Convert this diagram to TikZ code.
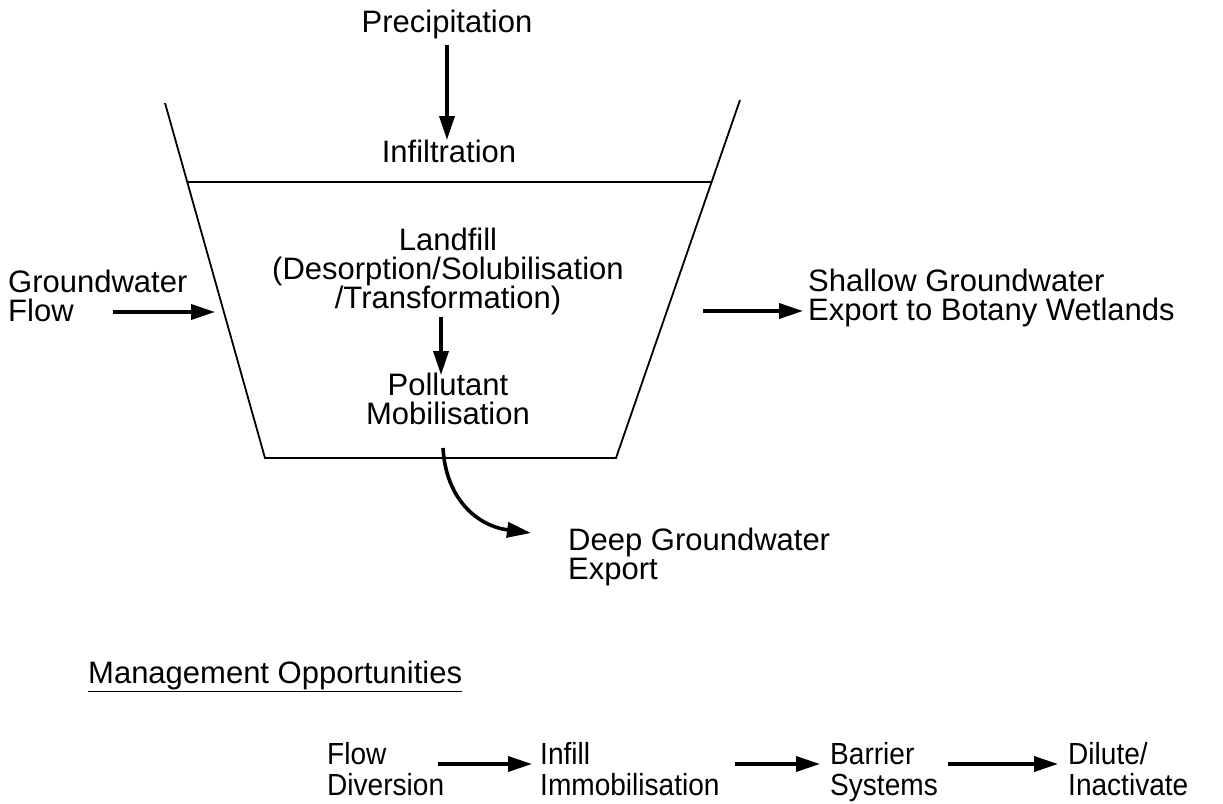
\documentclass[tikz,border=0pt]{standalone}
\usepackage{fontspec}
\setmainfont{Liberation Sans}
\newfontfamily\narrowsans[FakeStretch=0.92]{Liberation Sans}
\usetikzlibrary{arrows.meta}
\begin{document}
\begin{tikzpicture}[x=1pt,y=-1pt,
  txt/.style={font=\fontsize{31}{29}\selectfont, inner sep=0pt},
  lbl/.style={txt, align=left, anchor=base west},
  ctr/.style={txt, align=center, anchor=base},
  opt/.style={lbl, font=\narrowsans\fontsize{30.5}{31}\selectfont},
  flow/.style={line width=3.6pt, -{Triangle[length=24pt,width=15pt]}},
  wall/.style={line width=1.8pt}]
\useasboundingbox (0,0) rectangle (1223,803);
% trapezoid
\coordinate (tl) at (165,103);
\coordinate (bl) at (265,458);
\coordinate (tr) at (740,100);
\coordinate (br) at (616,458);
\draw[wall] (tl) -- (bl) -- (br) -- (tr);
\coordinate (sl) at (187,182);
\coordinate (sr) at (711,182);
\draw[wall] (sl) -- (sr);
% top
\node[ctr] (prec) at (447,32) {Precipitation};
\node[ctr] (infil) at (449,162) {Infiltration};
\coordinate (pa) at (447,45);
\coordinate (pb) at (447,140);
\draw[flow] (pa) -- (pb);
% landfill (anchor = baseline of last line)
\node[ctr] (land) at (448,308) {Landfill\\(Desorption/Solubilisation\\/Transformation)};
\node[ctr] (poll) at (448,424) {Pollutant\\Mobilisation};
\coordinate (la) at (441,317);
\coordinate (lb) at (441,375);
\draw[flow] (la) -- (lb);
% groundwater in
\node[lbl] (gw) at (8,321) {Groundwater\\Flow};
\coordinate (ga) at (113,312);
\coordinate (gb) at (215,312);
\draw[flow] (ga) -- (gb);
% shallow export
\coordinate (sa) at (703,311);
\coordinate (sb) at (803,311);
\draw[flow] (sa) -- (sb);
\node[lbl] (shallow) at (808,320) {Shallow Groundwater\\Export to Botany Wetlands};
% deep export
\coordinate (da) at (443,448);
\coordinate (db) at (531,533);
\draw[flow] (da) .. controls (446,500) and (478,526) .. (db);
\node[lbl] (deep) at (568,579) {Deep Groundwater\\Export};
% management
\node[lbl] (mgmt) at (88,683) {\underline{Management Opportunities}};
\node[opt] (m1) at (327,795) {Flow\\Diversion};
\node[opt] (m2) at (540,795) {Infill\\Immobilisation};
\node[opt] (m3) at (830,795) {Barrier\\Systems};
\node[opt] (m4) at (1068,795) {Dilute/\\Inactivate};
\coordinate (a1) at (438,764);
\coordinate (b1) at (532,764);
\coordinate (a2) at (735,764);
\coordinate (b2) at (820,764);
\coordinate (a3) at (948,764);
\coordinate (b3) at (1058,764);
\draw[flow] (a1) -- (b1);
\draw[flow] (a2) -- (b2);
\draw[flow] (a3) -- (b3);
\end{tikzpicture}
\end{document}
